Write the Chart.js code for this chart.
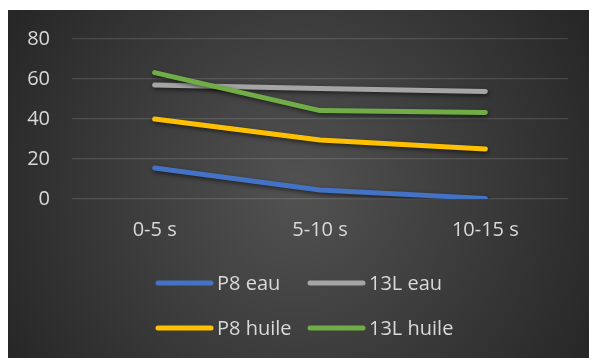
<!DOCTYPE html>
<html>
<head>
<meta charset="utf-8">
<script src="https://cdn.jsdelivr.net/npm/chart.js@4"></script>
<style>
  html, body { margin: 0; padding: 0; background: #fff; }
  #wrap { position: absolute; left: 8px; top: 10px; width: 581px; height: 348px; }
</style>
</head>
<body>
<div id="wrap"><canvas id="chartTemps"></canvas></div>
<script>
  // Catégories et séries
  const categories = ['0-5 s', '5-10 s', '10-15 s'];
  const seriesNames = ['P8 eau', '13L eau', 'P8 huile', '13L huile'];
  const p8Eau = [15.5, 4.5, 0.3];
  const l13Eau = [57, 55.2, 53.8];
  const p8Huile = [40, 29.5, 25];
  const l13Huile = [63.2, 44.2, 43.3];
  const yTicks = [0, 20, 40, 60, 80];
  const colors = ['#4472C4', '#A5A5A5', '#FFC000', '#70AD47'];

  const FONT = '"Open Sans", sans-serif';
  const TEXT = '#d9d9d9';

  // fond dégradé radial
  const bgPlugin = {
    id: 'bg',
    beforeDraw(chart) {
      const c = chart.ctx;
      const w = chart.width, h = chart.height;
      const g = c.createRadialGradient(w * 0.5, h * 0.52, 0, w * 0.5, h * 0.52, 340);
      g.addColorStop(0, '#525252');
      g.addColorStop(1, '#262626');
      c.save();
      c.fillStyle = g;
      c.fillRect(0, 0, w, h);
      c.restore();
    }
  };

  // ombre sous les courbes
  const shadowPlugin = {
    id: 'shadow',
    beforeDatasetsDraw(chart) {
      const c = chart.ctx;
      c.save();
      c.shadowColor = 'rgba(0,0,0,0.55)';
      c.shadowBlur = 4;
      c.shadowOffsetX = 1;
      c.shadowOffsetY = 2;
    },
    afterDatasetsDraw(chart) {
      chart.ctx.restore();
    }
  };

  // légende en deux colonnes alignées
  const legendPlugin = {
    id: 'legendGrid',
    afterDraw(chart) {
      const c = chart.ctx;
      const cols = [148, 300];
      const rows = [273, 318];
      c.save();
      c.font = '20px ' + FONT;
      c.textBaseline = 'middle';
      c.textAlign = 'left';
      chart.data.datasets.forEach((ds, i) => {
        const x = cols[i % 2];
        const y = rows[Math.floor(i / 2)];
        c.strokeStyle = ds.borderColor;
        c.lineWidth = 5;
        c.lineCap = 'round';
        c.beginPath();
        c.moveTo(x + 2, y);
        c.lineTo(x + 55, y);
        c.stroke();
        c.fillStyle = TEXT;
        c.fillText(ds.label, x + 61, y + 1);
      });
      c.restore();
    }
  };

  const seriesData = [p8Eau, l13Eau, p8Huile, l13Huile];

  new Chart(document.getElementById('chartTemps'), {
    type: 'line',
    data: {
      labels: categories,
      datasets: seriesData.map((d, i) => ({
        label: seriesNames[i],
        data: d,
        borderColor: colors[i],
        backgroundColor: colors[i],
        borderWidth: 5,
        borderCapStyle: 'round',
        borderJoinStyle: 'round',
        pointRadius: 0,
        tension: 0,
        order: 4 - i
      }))
    },
    options: {
      responsive: true,
      maintainAspectRatio: false,
      animation: false,
      layout: { padding: { top: 29, right: 21, bottom: 0, left: 0 } },
      plugins: {
        legend: { display: false },
        tooltip: { enabled: false }
      },
      scales: {
        x: {
          offset: true,
          grid: { display: false, drawTicks: false },
          border: { display: false },
          ticks: { color: TEXT, font: { family: FONT, size: 20 }, padding: 19, maxRotation: 0 },
          afterFit(scale) {
            scale.height = 159;
            scale.paddingLeft = 0;
            scale.paddingRight = 0;
          }
        },
        y: {
          min: 0,
          max: 80,
          afterBuildTicks(scale) { scale.ticks = yTicks.map(v => ({ value: v })); },
          grid: { color: 'rgba(255,255,255,0.13)', lineWidth: 1.3, drawTicks: false },
          border: { display: false },
          ticks: { color: TEXT, font: { family: FONT, size: 20 }, padding: 22 },
          afterFit(scale) {
            scale.width = 64;
            scale.paddingTop = 0;
            scale.paddingBottom = 0;
          }
        }
      }
    },
    plugins: [bgPlugin, shadowPlugin, legendPlugin]
  });
</script>
</body>
</html>
